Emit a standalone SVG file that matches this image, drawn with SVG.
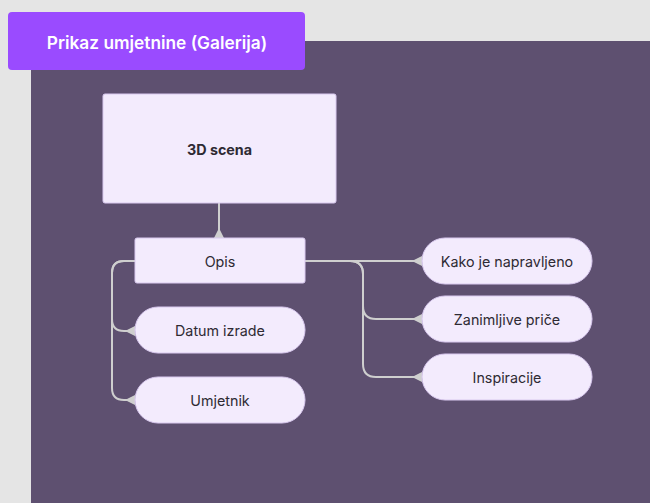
<svg xmlns="http://www.w3.org/2000/svg" width="650" height="503" viewBox="0 0 650 503">
<defs>
<marker id="tri" viewBox="0 0 10 10" refX="10" refY="5" markerWidth="10" markerHeight="10" markerUnits="userSpaceOnUse" orient="auto">
<path d="M10,0 L0,5 L10,10 z" fill="#cfcfcf"/>
</marker>
</defs>
<style>
.node{fill:#f3ebfd;stroke:#d9c9ef;stroke-width:1}
.t{font-family:Inter,"Liberation Sans",sans-serif;font-size:14.3px;fill:#2e2a33;text-anchor:middle;dominant-baseline:central}
.c{fill:none;stroke:#cfcfcf;stroke-width:2;marker-end:url(#tri)}
</style>
<rect width="650" height="503" fill="#e5e5e5"/>
<rect x="31" y="41" width="619" height="462" fill="#5e5070"/>
<g id="title">
<rect x="8" y="12" width="297" height="58" rx="4" fill="#9a4bff"/>
<text x="157" y="42" class="t" style="fill:#ffffff;font-size:17.3px;font-weight:600">Prikaz umjetnine (Galerija)</text>
</g>
<g id="connectors">
<path class="c" d="M219,203 V238"/>
<path class="c" d="M135,261 H124 Q112,261 112,273 V319 Q112,331 124,331 H135"/>
<path class="c" d="M135,261 H124 Q112,261 112,273 V388 Q112,400 124,400 H135"/>
<path class="c" d="M305,261 H422"/>
<path class="c" d="M305,261 H350 Q363,261 363,274 V306 Q363,319 376,319 H422"/>
<path class="c" d="M305,261 H350 Q363,261 363,274 V364 Q363,377 376,377 H422"/>
</g>
<g id="scena">
<rect class="node" x="103" y="94" width="233" height="109" rx="2"/>
<text class="t" x="219.5" y="149" style="font-weight:700">3D scena</text>
</g>
<g id="opis">
<rect class="node" x="135" y="238" width="170" height="45" rx="2"/>
<text class="t" x="220" y="261">Opis</text>
</g>
<g id="datum">
<rect class="node" x="135" y="307" width="170" height="46" rx="23"/>
<text class="t" x="220" y="330">Datum izrade</text>
</g>
<g id="umjetnik">
<rect class="node" x="135" y="377" width="170" height="46" rx="23"/>
<text class="t" x="220" y="400">Umjetnik</text>
</g>
<g id="kako">
<rect class="node" x="422" y="238" width="170" height="46" rx="23"/>
<text class="t" x="507" y="261">Kako je napravljeno</text>
</g>
<g id="zanimljive">
<rect class="node" x="422" y="296" width="170" height="46" rx="23"/>
<text class="t" x="507" y="319">Zanimljive priče</text>
</g>
<g id="inspiracije">
<rect class="node" x="422" y="354" width="170" height="46" rx="23"/>
<text class="t" x="507" y="377">Inspiracije</text>
</g>
</svg>
